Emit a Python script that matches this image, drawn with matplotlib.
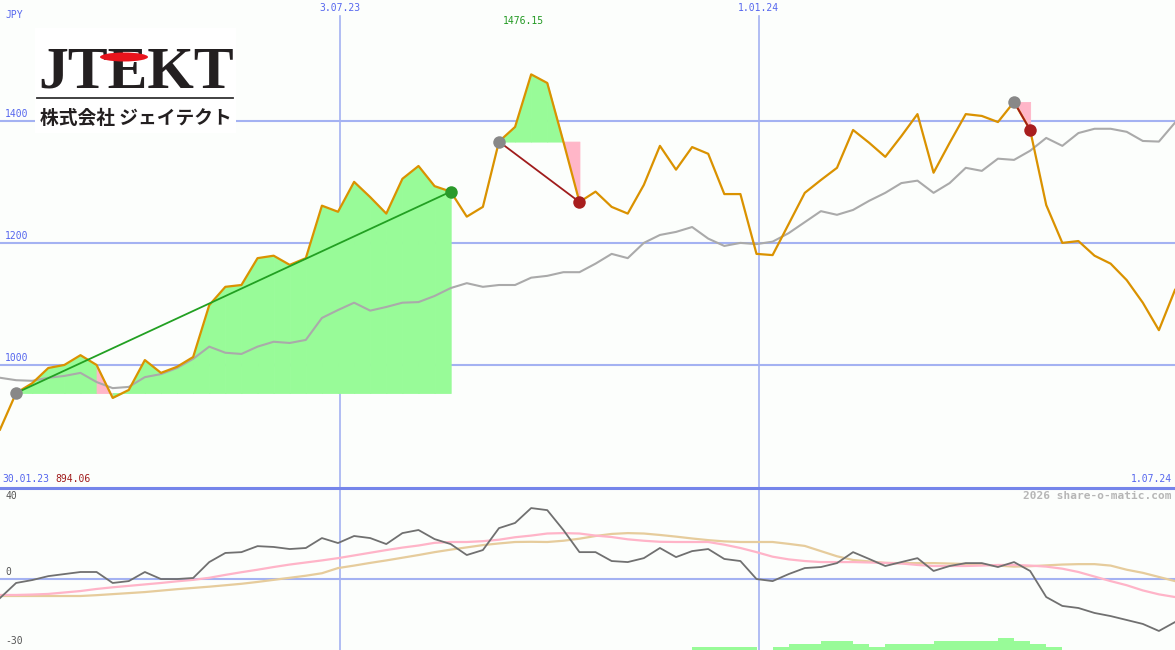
import matplotlib
matplotlib.use('Agg')
import matplotlib.pyplot as plt
import pandas as pd
from matplotlib.patches import Ellipse, Rectangle
from matplotlib.lines import Line2D

W, H = 1175, 650

# ---------------- data ----------------
dates = pd.date_range('2023-02-05', periods=74, freq='7D')

price = [894.06, 954, 970, 995, 1000, 1016, 1000, 946, 959, 1008,
         987, 997, 1013, 1098, 1128, 1131, 1175, 1179, 1164, 1175,
         1261, 1251, 1300, 1275, 1248, 1305, 1326, 1293, 1284, 1243,
         1259, 1366, 1390, 1476.15, 1462, 1366, 1267, 1284, 1259, 1248,
         1295, 1359, 1320, 1357, 1346, 1280, 1280, 1182, 1180, 1231,
         1282, 1303, 1323, 1385, 1364, 1341, 1375, 1411, 1315, 1364,
         1411, 1408, 1398, 1431, 1385, 1262, 1200, 1203, 1179, 1166,
         1139, 1102, 1057, 1123]

avg = [979, 975, 974, 979, 982, 987, 972, 962, 964, 980,
       985, 995, 1010, 1030, 1020, 1018, 1030, 1038, 1036, 1041,
       1077, 1090, 1102, 1089, 1095, 1102, 1103, 1113, 1126, 1134,
       1128, 1131, 1131, 1143, 1146, 1152, 1152, 1166, 1182, 1175,
       1200, 1213, 1218, 1226, 1207, 1195, 1200, 1198, 1202, 1216,
       1234, 1252, 1246, 1254, 1269, 1282, 1298, 1302, 1282, 1298,
       1323, 1318, 1338, 1336, 1351, 1372, 1359, 1380, 1387, 1387,
       1382, 1367, 1366, 1397]

momentum = [-9.2, -1.9, -0.5, 1.4, 2.4, 3.4, 3.4, -1.9, -1.0, 3.4,
            0.0, 0.0, 0.5, 8.2, 12.6, 13.0, 15.9, 15.5, 14.5, 15.0,
            19.8, 17.4, 20.8, 19.8, 16.9, 22.2, 23.7, 19.3, 16.9, 11.6,
            14.0, 24.6, 27.1, 34.3, 33.3, 23.7, 13.0, 13.0, 8.7, 8.2,
            10.1, 15.0, 10.6, 13.5, 14.5, 9.7, 8.7, 0.0, -1.0, 2.4,
            5.3, 5.8, 7.7, 13.0, 9.7, 6.3, 8.2, 10.1, 3.9, 6.3,
            7.7, 7.7, 5.8, 8.2, 3.9, -8.7, -13.0, -14.0, -16.4, -17.9,
            -19.8, -21.7, -25.1, -20.8]

signal_pink = [-7.7, -7.7, -7.5, -7.2, -6.5, -5.8, -4.8, -4.0, -3.3, -2.6,
               -1.9, -1.1, -0.4, 0.6, 2.0, 3.3, 4.5, 5.8, 7.0, 8.0,
               9.0, 10.1, 11.4, 12.7, 14.0, 15.2, 16.2, 17.5, 17.9, 17.9,
               18.3, 19.0, 20.2, 21.0, 22.0, 22.2, 22.0, 21.0, 20.3, 19.2,
               18.5, 18.0, 17.9, 17.9, 17.9, 16.6, 15.0, 13.0, 10.8, 9.5,
               8.7, 8.2, 8.2, 8.2, 8.0, 7.8, 7.5, 6.8, 6.3, 6.3,
               6.3, 6.5, 6.8, 6.8, 6.5, 6.0, 5.0, 3.4, 1.2, -1.0,
               -3.0, -5.5, -7.4, -8.7]

signal_tan = [-8.2, -8.2, -8.2, -8.2, -8.2, -8.2, -7.8, -7.3, -6.8, -6.3,
              -5.6, -4.9, -4.3, -3.7, -3.0, -2.3, -1.4, -0.4, 0.6, 1.6,
              2.8, 5.3, 6.5, 7.8, 9.0, 10.3, 11.6, 13.0, 14.2, 15.3,
              16.4, 17.2, 17.9, 18.0, 17.9, 18.5, 19.5, 20.8, 21.8, 22.2,
              22.0, 21.3, 20.5, 19.6, 18.8, 18.2, 17.9, 17.9, 17.9, 17.0,
              16.0, 13.5, 11.0, 9.2, 8.5, 7.8, 7.7, 7.7, 7.7, 7.5,
              7.3, 7.0, 6.5, 6.0, 6.2, 6.6, 7.0, 7.2, 7.2, 6.5,
              4.5, 3.0, 1.0, -1.0]

histogram = [0] * 43 + [1.45, 1.45, 1.45, 1.45, 0, 1.45, 2.9, 2.9, 4.35, 4.35,
                        2.9, 1.45, 2.9, 2.9, 2.9, 4.35, 4.35, 4.35, 4.35, 5.8,
                        4.35, 2.9, 1.45] + [0] * 8

trend_start = [1, 31, 63]
trend_end = [28, 36, 64]
trend_line_colors = ['#22a022', '#a01c1c', '#a01c1c']
trend_end_colors = ['#2a9a2a', '#a81e1e', '#a81e1e']

price_grid = [1000, 1200, 1400]
month_lines = [pd.Timestamp('2023-07-03'), pd.Timestamp('2024-01-01')]
month_labels = ['3.07.23', '1.01.24']
start_label, end_label = '30.01.23', '1.07.24'

# ---------------- style ----------------
BG = '#fcfefc'
GRID = '#a4b2f2'
LBL = '#5566ee'
MONO = 'DejaVu Sans Mono'

fig = plt.figure(figsize=(W / 100, H / 100), dpi=100, facecolor=BG)
ax = fig.add_axes([0, 163 / H, 1, 487 / H])
ax2 = fig.add_axes([0, 0, 1, 162 / H])
for a in (ax, ax2):
    a.set_facecolor(BG)
    a.set_xlim(dates[0], dates[-1])
    a.set_xticks([])
    a.set_yticks([])
    for s in a.spines.values():
        s.set_visible(False)

ax.set_ylim(800, 1598)
ax2.set_ylim(-34.3, 44)

# grid
for v in price_grid:
    ax.axhline(v, color=GRID, lw=1.5, zorder=1)
for d in month_lines:
    ax.axvline(d, ymin=0, ymax=0.967, color=GRID, lw=1.2, zorder=1)
    ax2.axvline(d, color=GRID, lw=1.2, zorder=1)
ax2.axhline(0, color=GRID, lw=1.5, zorder=1)

# trend fills
for s, e in zip(trend_start, trend_end):
    base = price[s]
    for k in range(s, e):
        col = '#98fb98' if price[k + 1] >= base else '#ffb6c8'
        ax.fill_between(dates[k:k + 2], price[k:k + 2], base, facecolor=col,
                        edgecolor=col, lw=0.6, zorder=2)

ax.plot(dates, avg, color='#aaaaaa', lw=1.5, zorder=3)
ax.plot(dates, price, color='#da9200', lw=1.6, zorder=4)

for s, e, lc, ec in zip(trend_start, trend_end, trend_line_colors, trend_end_colors):
    ax.plot([dates[s], dates[e]], [price[s], price[e]], color=lc, lw=1.3, zorder=5)
    ax.plot(dates[s], price[s], 'o', color='#888888', ms=9, mew=0, zorder=6)
    ax.plot(dates[e], price[e], 'o', color=ec, ms=9, mew=0, zorder=6)

# labels main panel
for v in price_grid:
    ax.annotate(str(v), (0, v), xycoords=('axes fraction', 'data'),
                xytext=(5, 2), textcoords='offset pixels', color=LBL,
                fontsize=7, family=MONO, va='bottom', ha='left', zorder=7)
ax.annotate('JPY', (0, 1), xycoords='axes fraction', xytext=(5, -15),
            textcoords='offset pixels', color=LBL, fontsize=7, family=MONO,
            va='center', ha='left')
for d, t in zip(month_lines, month_labels):
    ax.annotate(t, (d, 1), xycoords=('data', 'axes fraction'),
                xytext=(0, -8), textcoords='offset pixels', color=LBL,
                fontsize=7, family=MONO, va='center', ha='center')
imax = price.index(max(price))
ax.annotate(f'{max(price):.2f}', (dates[imax], 1), xycoords=('data', 'axes fraction'),
            xytext=(-8, -21), textcoords='offset pixels', color='#229922',
            fontsize=7, family=MONO, va='center', ha='center')
ax.annotate(start_label, (0, 0), xycoords='axes fraction', xytext=(2, 8),
            textcoords='offset pixels', color=LBL, fontsize=7, family=MONO,
            va='center', ha='left')
ax.annotate(f'{min(price):.2f}', (0, 0), xycoords='axes fraction', xytext=(55, 8),
            textcoords='offset pixels', color='#a01c1c', fontsize=7, family=MONO,
            va='center', ha='left')
ax.annotate(end_label, (1, 0), xycoords='axes fraction', xytext=(-3, 8),
            textcoords='offset pixels', color=LBL, fontsize=7, family=MONO,
            va='center', ha='right')

# divider
fig.add_artist(Line2D([0, 1], [1 - 487.5 / H, 1 - 487.5 / H], color='#7585ea', lw=2.2))

# lower panel
ax2.bar(dates, histogram, width=7, align='edge', bottom=-34.3, color='#98fb98',
        lw=0, zorder=2)
ax2.plot(dates, signal_tan, color='#e6cc9c', lw=1.6, zorder=3)
ax2.plot(dates, signal_pink, color='#ffb4c8', lw=1.6, zorder=3)
ax2.plot(dates, momentum, color='#707070', lw=1.3, zorder=4)
for v, dy, va in [(40, 0, 'center'), (0, 2, 'bottom'), (-30, 0, 'center')]:
    ax2.annotate(str(v), (0, v), xycoords=('axes fraction', 'data'),
                 xytext=(5, dy), textcoords='offset pixels', color='#555555',
                 fontsize=7, family=MONO, va=va, ha='left')
ax2.text(0.997, 0.95, '2026 share-o-matic.com', transform=ax2.transAxes,
         color='#b6b6b6', fontsize=8, family=MONO, weight='bold',
         va='center', ha='right')

# logo
def fx(x):
    return x / W

def fy(y):
    return 1 - y / H

fig.add_artist(Rectangle((fx(35), fy(133)), fx(201), 105 / H, color='white',
                         lw=0, zorder=5))
fig.text(fx(136), fy(87), 'JTEKT', family='Liberation Serif', weight='bold',
         fontsize=43, color='#231f20', ha='center', va='baseline', zorder=6)
fig.add_artist(Ellipse((fx(124), fy(57)), fx(48), 9 / H, color='#e8141c',
                       lw=0, zorder=7))
fig.add_artist(Line2D([fx(37), fx(233)], [fy(98), fy(98)], color='#333333',
                      lw=1.3, zorder=6))
fig.text(fx(136), fy(119), '株式会社 ジェイテクト', family=['Noto Sans CJK JP', 'DejaVu Sans'],
         weight='bold', fontsize=13.5, color='#231f20', ha='center', va='center',
         zorder=6)

fig.savefig('out.png', dpi=100, facecolor=BG)
